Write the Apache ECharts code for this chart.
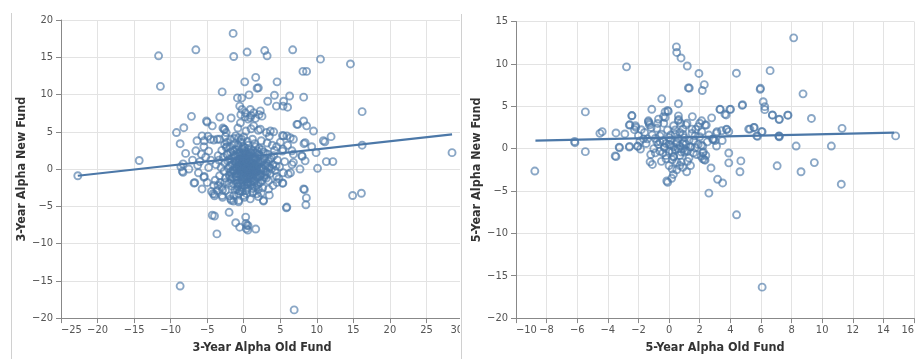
<!DOCTYPE html>
<html><head><meta charset="utf-8">
<script src="https://cdn.jsdelivr.net/npm/echarts@6/dist/echarts.min.js"></script>
<style>html,body{margin:0;padding:0;background:#fff}#c{width:917px;height:359px}</style>
</head><body><div id="c"></div>
<script>
// ---- 3-Year alpha (left panel) ----
const old3 = [-1.45,-11.65,-6.55,-1.37,0.46,2.87,3.2,6.7,10.5,14.6,8.1,8.6,-11.4,-2.95,0.14,1.64,1.83,2.0,4.56,-0.86,-0.27,0.73,3.28,4.2,5.46,6.28,8.2,4.47,5.38,6.0,-0.55,-0.23,0.23,0.9,1.36,2.27,2.5,-0.4,0.2,0.6,1.0,1.6,2.1,-7.15,-3.28,-1.72,-5.0,-5.1,-4.3,-0.45,0.9,1.36,2.27,3.64,4.1,2.0,1.0,0.3,-0.8,-2.85,-2.6,-9.2,-8.2,-8.7,-7.95,-6.55,-6.4,-5.7,-5.45,-5.4,-4.55,-4.9,-4.1,-3.6,-3.3,-2.7,-2.5,-2.4,-1.8,-1.1,-0.7,-0.3,5.45,5.9,6.36,6.8,5.3,3.1,3.5,7.27,7.4,8.2,8.6,9.55,8.4,8.25,9.3,9.9,10.9,11.95,11.1,5.36,6.6,5.3,6.8,7.95,8.0,6.8,6.6,8.4,7.7,10.1,11.3,12.2,16.2,16.2,28.5,-14.3,-22.7,-8.3,-8.6,-8.4,-8.3,-6.7,-6.8,-5.7,-5.4,-5.45,-4.4,-4.0,-4.2,-4.1,-3.64,-3.5,-2.9,-2.95,-2.9,-2.5,-1.9,-1.7,-1.8,-1.36,-1.4,-0.7,-0.68,-0.9,-0.7,-0.5,0.0,0.1,0.4,0.9,1.3,1.8,2.0,2.4,2.7,2.7,4.55,5.3,5.36,4.5,6.1,5.4,6.4,5.9,5.83,8.3,8.2,8.57,8.5,14.9,16.1,-4.3,-4.0,-3.67,-2.0,-1.1,-0.55,0.27,0.45,0.3,0.6,0.55,0.35,1.64,-8.7,6.9,
-3.0,-2.8,-2.6,-2.7,-2.5,-2.3,-2.2,-2.1,-2.0,-2.0,-1.9,-1.8,-1.7,-1.6,-1.5,-1.5,-1.4,-1.3,-1.2,-1.1,-1.0,-1.0,-0.9,-0.9,-0.8,-0.7,-0.6,-0.6,-0.5,-0.5,-0.4,-0.4,-0.3,-0.2,-0.2,-0.1,0.0,0.0,0.1,0.1,0.2,0.3,0.3,0.4,0.4,0.5,0.5,0.6,0.7,0.7,0.8,0.8,0.9,1.0,1.0,1.1,1.2,1.2,1.3,1.4,1.5,1.5,1.6,1.7,1.8,1.8,1.9,2.0,2.1,2.2,2.3,2.4,2.4,2.5,2.6,2.7,2.8,2.9,3.0,3.1,3.3,3.4,3.5,3.6,3.8,4.0,4.2,4.3,4.6,3.9,3.2,2.4,1.2,0.0,-1.3,-2.3,-3.5,-3.8,-3.3,-3.9,-4.5,-4.8,-5.0,-3.2,4.8,4.0,3.4,1.2,-0.2,-1.2,0.2,0.6,0.9,0.4,-0.2,-0.7,1.4,1.0,0.5,-0.3,0.7,1.6,2.0,-1.2,-1.6,0.1,1.9,-0.9,
-6.0,-6.2,-5.8,-7.0,-7.5,-4.0,-6.3,-5.2,-4.8,3.5,4.5,5.0,6.0,5.6,4.9,0.5,0.0,-0.3,0.8,1.1,0.2,-0.6,1.5,0.3,-0.1,0.6,1.3,-0.4,0.9,1.7,
-2.4,-2.2,-2.0,-1.9,-1.8,-1.7,-1.6,-1.4,-1.3,-1.2,-1.1,-1.0,-0.9,-0.8,-0.7,-0.6,-0.5,-0.4,-0.3,-0.2,-0.1,0.0,0.1,0.2,0.3,0.4,0.5,0.6,0.7,0.8,0.9,1.0,1.1,1.2,1.3,1.4,1.5,1.6,1.7,1.8,1.9,2.0,2.1,2.2,2.3,2.5,2.6,2.7,2.8,3.0,3.1,3.2,3.4,3.6,3.8,4.1,4.4,-2.6,-3.1,-3.4,-3.0,-2.6,0.3,1.6,0.5,-0.6,2.0,-0.1,0.6,1.1,0.3,-0.3,0.8,0.1,0.5,-0.8,1.3,
-1.3,-0.9,-0.4,0.1,0.5,1.0,1.5,2.0,-1.1,-0.6,-0.1,0.4,0.9,1.4,1.9,2.4,-1.4,-0.8,-0.2,0.3,0.8,1.3,1.8,2.3,-1.0,-0.5,0.0,0.6,1.1,1.7,2.2,-0.7,-0.2,0.4,0.9,1.5,-2.3,-1.9,2.9,3.3];
const new3 = [18.2,15.2,16.0,15.1,15.7,15.9,15.2,16.0,14.75,14.1,13.1,13.1,11.1,10.35,11.7,12.3,10.85,10.9,11.7,9.55,9.55,9.95,9.1,9.9,9.1,9.8,9.65,8.45,8.45,8.3,8.45,8.0,7.55,8.0,7.55,7.8,7.1,7.3,7.0,6.7,7.2,6.8,7.3,7.07,6.98,6.85,6.3,6.45,5.8,6.2,6.9,5.8,5.35,5.1,5.0,5.2,5.4,5.1,5.5,5.5,5.3,4.9,5.55,3.4,2.1,2.45,3.8,4.45,3.0,3.8,4.0,4.4,3.9,4.0,4.0,5.35,4.35,4.9,4.0,4.45,4.2,4.0,4.45,4.45,4.2,4.0,4.5,4.9,4.4,6.0,6.0,6.45,5.8,5.1,3.55,3.4,3.0,2.2,3.8,4.35,3.65,2.67,2.45,2.4,2.0,1.8,1.7,0.9,0.6,1.1,0.0,0.1,1.0,1.0,7.7,3.2,2.2,1.15,-0.9,0.7,0.3,-0.3,-0.44,-1.83,-1.87,-2.67,-1.0,-1.1,-3.0,-3.6,-3.3,-2.2,-2.9,-2.2,-2.8,-3.55,-3.8,-2.9,-3.6,-4.2,-4.0,-3.55,-4.3,-4.4,-4.2,-2.7,-3.3,-3.0,-3.55,-3.8,-3.3,-4.0,-3.0,-3.33,-3.7,-3.2,-4.2,-4.3,-1.8,-1.87,-1.9,-1.0,-0.67,-0.5,-0.5,-5.1,-5.2,-2.75,-2.67,-3.87,-4.8,-3.55,-3.25,-6.2,-6.3,-8.7,-5.8,-7.2,-7.8,-6.45,-7.55,-7.3,-7.6,-8.2,-8.0,-8.05,-15.7,-18.9,
2.5,1.6,0.8,-0.3,-1.2,2.0,1.1,0.1,-0.8,-1.9,3.0,2.3,1.4,0.6,-0.2,-1.1,-2.0,3.4,2.6,1.8,1.0,0.2,-0.6,-1.5,-2.3,3.0,2.2,1.4,0.6,-0.2,-1.0,-1.9,3.6,2.7,1.9,1.1,0.3,-0.5,-1.3,-2.2,2.4,1.5,0.7,-0.1,-0.9,-1.7,-2.6,3.2,2.0,1.1,0.3,-0.5,-1.3,-2.1,2.7,1.6,0.8,0.0,-0.8,-1.6,-2.4,3.4,2.2,1.3,0.5,-0.3,-1.1,-2.0,2.8,1.8,0.9,0.1,-0.7,-1.5,-2.5,2.3,1.4,0.5,-0.3,-1.2,2.0,1.0,0.2,-0.6,1.5,0.6,2.5,-0.2,1.2,3.2,3.5,3.8,4.0,4.3,4.1,3.6,1.8,0.6,-0.9,-1.5,1.2,0.2,-1.8,-1.8,-1.3,-2.2,-2.7,-3.2,-3.0,-2.8,0.0,0.5,-0.1,1.0,0.5,0.9,0.3,1.3,1.8,-0.7,-0.9,-0.5,0.8,0.4,-0.6,2.9,2.4,2.6,
1.0,-0.5,2.0,1.2,0.0,-3.4,0.5,1.6,2.4,-3.5,3.0,3.6,3.2,1.0,0.3,-0.3,0.9,1.2,-1.0,0.4,-1.4,0.2,-0.4,2.0,1.6,-1.8,-0.2,0.7,2.2,0.1,
2.9,1.9,1.3,0.4,-0.4,-1.3,-2.3,2.4,1.6,1.0,-0.2,-1.0,-1.9,3.2,2.0,1.0,0.3,-0.5,-1.4,-2.4,3.0,2.1,1.4,0.6,-0.3,-1.2,-2.0,2.6,1.6,0.9,0.1,-0.7,-1.6,-2.6,2.4,1.5,0.6,-0.2,-1.0,-2.2,1.9,1.1,0.2,-0.9,-1.8,2.6,1.1,0.0,-1.1,2.1,0.8,-0.5,-1.6,1.3,0.0,1.8,0.4,-1.8,0.2,1.2,-2.4,3.3,-2.9,3.0,3.7,-2.9,-2.7,0.8,-0.1,0.1,0.3,0.0,1.4,-0.4,0.2,0.5,-0.4,
1.9,2.1,1.8,2.2,1.9,2.1,1.7,2.0,0.9,1.2,0.8,1.1,0.9,1.3,0.7,1.0,-0.1,0.2,-0.2,0.1,-0.3,0.0,0.2,-0.1,-1.0,-0.8,-1.1,-0.9,-1.2,-0.7,-1.0,-2.0,-1.8,-2.1,-1.9,-1.7,3.0,-1.0,-0.8,0.4];
const fit3Old = [-22.7, 28.5];
const fit3New = [-0.9, 4.65];

// ---- 5-Year alpha (right panel) ----
const old5 = [0.48,0.5,0.78,1.19,1.95,2.3,2.17,1.32,-2.78,4.4,6.6,8.14,5.97,5.95,8.75,6.15,6.25,4.78,6.75,7.19,7.77,9.3,11.3,14.8,10.6,8.3,7.19,7.2,6.08,5.54,5.2,5.73,3.9,3.76,3.13,3.47,2.84,3.1,3.9,3.9,4.69,4.63,7.06,8.62,9.49,3.34,3.97,3.73,2.78,2.13,2.43,1.74,1.52,1.17,0.61,0.61,0.63,0.76,-0.09,-0.05,-0.48,-1.13,-0.26,-0.35,-0.74,-1.35,-1.28,-2.43,-2.56,-2.2,-2.26,-1.82,-2.0,-2.89,-3.47,-4.37,-4.52,-5.47,-6.17,-6.15,-5.47,-3.47,-3.24,-2.58,-2.06,-1.87,-1.41,-8.77,-0.09,0.17,0.28,2.6,3.17,3.5,4.41,6.08,11.25,-3.26,-3.52,-2.6,-2.43,-2.17,-2.6,-2.04,-1.67,-1.35,-1.3,-1.17,-1.24,-1.09,-0.69,-0.37,-0.26,2.89,3.0,4.8,3.32,3.65,4.02,1.26,
-0.9,-0.7,-0.6,-0.5,-0.4,-0.3,-0.2,-0.1,0.0,0.1,0.2,0.2,0.3,0.4,0.5,0.6,0.7,0.8,0.9,1.0,1.1,1.2,1.3,1.5,1.6,1.7,1.8,2.0,2.1,2.2,2.3,2.5,0.0,0.5,0.9,1.4,-0.5,-1.0,-1.2,-0.8,0.6,1.1,1.9,-1.5,1.15,-0.15,2.0,2.6,2.35,2.74,
2.35,2.13,3.1,3.43,3.76,2.9,2.2,2.24,2.4,2.2,5.28,5.56,5.78,6.04,7.17,6.75,7.2,7.75,6.25,-0.3,0.3,0.9,0.1,0.4,1.0,-0.6,0.7,1.4,
-0.8,-0.6,-0.4,-0.2,0.0,0.1,0.3,0.3,0.4,0.5,0.6,0.7,0.8,0.9,1.0,1.1,1.2,1.3,1.4,1.6,1.7,1.9,2.1,0.2,0.7,-0.2,-0.9,1.5,0.0,0.5,0.9,-1.1,-1.6,-1.9];
const new5 = [12.0,11.35,10.7,9.75,8.87,7.55,6.85,7.15,9.65,8.9,9.2,13.07,7.12,7.0,6.46,5.53,4.95,5.1,3.97,3.43,3.94,3.56,2.39,1.5,0.3,0.3,1.5,1.4,2.0,2.5,2.3,1.5,2.0,2.24,2.0,0.96,1.1,0.3,-0.52,-1.68,-1.45,-2.73,-2.03,-2.73,-1.65,4.63,4.63,3.97,3.63,3.28,2.78,2.27,3.78,3.0,5.3,3.86,3.43,3.0,4.5,4.4,5.88,4.64,3.67,3.0,2.97,3.16,2.8,3.9,2.81,2.7,2.23,2.23,1.53,1.73,1.85,2.0,1.8,4.33,0.84,0.7,-0.36,-0.95,0.1,0.26,0.3,-0.05,1.15,-2.65,-3.97,-3.5,-3.05,-5.25,-3.62,-4.05,-7.81,-16.35,-4.2,0.18,-0.86,2.78,3.87,2.5,0.18,0.26,1.15,3.28,3.0,2.5,-1.56,-1.87,3.48,3.78,4.33,1.14,0.95,5.18,4.64,4.06,4.64,7.16,
1.2,0.5,-0.3,1.7,0.9,0.1,-0.8,2.2,1.3,0.4,-0.4,-1.3,2.7,1.7,0.8,0.0,-0.8,-1.6,2.3,1.3,0.5,-0.3,-1.1,1.8,0.9,0.1,-0.7,1.4,0.4,-0.5,-1.3,0.8,-2.0,-2.5,-2.2,-2.0,-1.5,0.0,-0.7,2.4,3.3,2.8,2.6,0.6,-2.73,-3.82,3.0,1.6,-1.37,-2.28,
2.78,2.0,1.85,2.1,2.3,1.07,0.3,-0.4,-0.8,-1.2,2.3,2.5,1.46,2.0,1.46,3.95,3.48,3.95,4.6,0.2,-1.0,0.6,1.6,-0.1,-0.4,0.8,1.9,0.2,
0.8,1.5,-0.5,0.6,-0.3,1.0,0.2,-0.9,2.2,-1.6,1.2,0.3,-0.4,1.7,0.8,-0.2,-1.5,1.0,0.2,-0.5,1.5,0.5,-0.9,-2.4,-2.0,-1.2,-0.5,2.3,0.5,0.6,0.0,1.6,1.9,0.9];
const fit5Old = [-8.73, 14.7];
const fit5New = [0.95, 1.89];

// tick settings
const xTicks3 = {min: -25, max: 30, interval: 5};
const yTicks3 = {min: -20, max: 20, interval: 5};
const xTicks5 = {min: -10, max: 16, interval: 2};
const yTicks5 = {min: -20, max: 15, interval: 5};

const labels = ['3-Year Alpha Old Fund','3-Year Alpha New Fund','5-Year Alpha Old Fund','5-Year Alpha New Fund'];

const zip = (a, b) => a.map((v, i) => [v, b[i]]);
const FONT = '"DejaVu Sans Condensed","Liberation Sans Narrow","Roboto",sans-serif';
const BLUE = '#4c78a8';
const minus = v => String(v).replace('-', '\u2212');

function xAx(gi, t, name) {
  return {gridIndex: gi, type: 'value', min: t.min, max: t.max, interval: t.interval,
    name: name, nameLocation: 'middle', nameGap: 21,
    nameTextStyle: {fontFamily: FONT, fontSize: 12.5, fontWeight: 'bold', color: '#333'},
    axisLine: {onZero: false, lineStyle: {color: '#888', width: 1}},
    axisTick: {show: true, length: 5, lineStyle: {color: '#888'}},
    axisLabel: {fontFamily: FONT, fontSize: 11, color: '#555', margin: 7, formatter: minus,
      alignMinLabel: 'left', alignMaxLabel: 'right'},
    splitLine: {show: true, lineStyle: {color: '#e3e3e3', width: 1}}};
}
function yAx(gi, t, name) {
  return {gridIndex: gi, type: 'value', min: t.min, max: t.max, interval: t.interval,
    name: name, nameLocation: 'middle', nameGap: 32,
    nameTextStyle: {fontFamily: FONT, fontSize: 12.5, fontWeight: 'bold', color: '#333'},
    axisLine: {show: true, onZero: false, lineStyle: {color: '#888', width: 1}},
    axisTick: {show: true, length: 5, lineStyle: {color: '#888'}},
    axisLabel: {fontFamily: FONT, fontSize: 11, color: '#555', margin: 8, formatter: minus},
    splitLine: {show: true, lineStyle: {color: '#e3e3e3', width: 1}}};
}
function pts(xi, data) {
  return {type: 'scatter', xAxisIndex: xi, yAxisIndex: xi, data: data, symbol: 'circle', symbolSize: 7,
    itemStyle: {color: 'rgba(255,255,255,0)', borderColor: 'rgba(76,120,168,0.82)', borderWidth: 1.9},
    emphasis: {disabled: true}, z: 2};
}
function fit(xi, xs, ys) {
  return {type: 'line', xAxisIndex: xi, yAxisIndex: xi, data: zip(xs, ys), showSymbol: false, symbol: 'none',
    lineStyle: {color: BLUE, width: 2.2}, z: 3, animation: false};
}

const chart = echarts.init(document.getElementById('c'), null, {renderer: 'canvas'});
chart.setOption({
  animation: false,
  backgroundColor: '#fff',
  grid: [
    {left: 61, top: 20, width: 402, height: 300},
    {left: 516, top: 21.5, width: 401, height: 300}
  ],
  xAxis: [xAx(0, xTicks3, labels[0]), xAx(1, xTicks5, labels[2])],
  yAxis: [yAx(0, yTicks3, labels[1]), yAx(1, yTicks5, labels[3])],
  series: [pts(0, zip(old3, new3)), fit(0, fit3Old, fit3New), pts(1, zip(old5, new5)), fit(1, fit5Old, fit5New)],
  graphic: [
    {type: 'rect', shape: {x: 460, y: 0, width: 8, height: 359}, style: {fill: '#fff'}, z: 100},
    {type: 'line', shape: {x1: 461.5, y1: 14, x2: 461.5, y2: 359}, style: {stroke: '#d0d0d0', lineWidth: 1}, z: 101},
    {type: 'line', shape: {x1: 11.5, y1: 13, x2: 11.5, y2: 359}, style: {stroke: '#d0d0d0', lineWidth: 1}, z: 101}
  ]
});
</script></body></html>
